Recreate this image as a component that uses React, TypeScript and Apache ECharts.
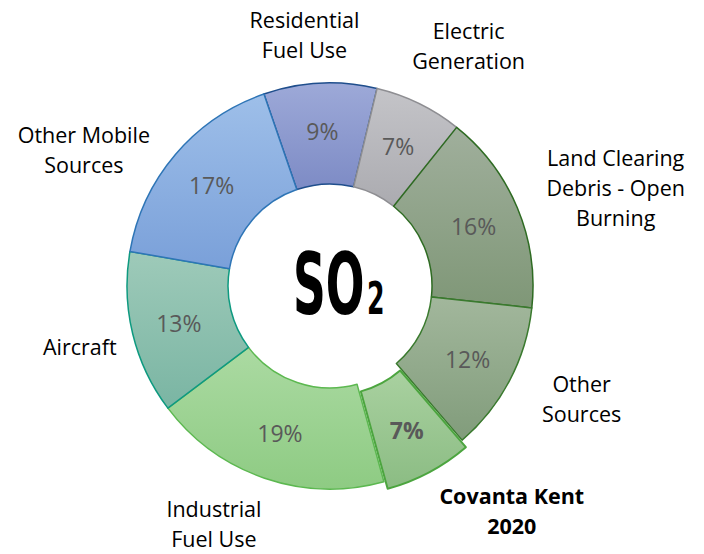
import React, { useEffect, useRef } from "react";
import * as echarts from "echarts";

const categories = [
  "Residential\nFuel Use",
  "Electric\nGeneration",
  "Land Clearing\nDebris - Open\nBurning",
  "Other\nSources",
  "Covanta Kent\n2020",
  "Industrial\nFuel Use",
  "Aircraft",
  "Other Mobile\nSources",
];
const shares = [9, 7, 16, 12, 7, 19, 13, 17];
const topColors = ["#9DA9D8", "#C4C4C8", "#A0AF9C", "#A2B79C", "#A9D1A0", "#ABDAA2", "#9ECAB9", "#9EBFE9"];
const bottomColors = ["#7D8BC5", "#ABABB0", "#7F9777", "#819C7B", "#8BBC83", "#8ECB83", "#7AB5A3", "#7AA0D9"];
const borderColors = ["#1F4E8C", "#8E8E92", "#2E6B22", "#3A7A2E", "#4CA53F", "#5CB850", "#0E9A80", "#2E75B6"];
const highlighted = "Covanta Kent\n2020";

// layout tweaks for the hand-placed outer labels (angle shift in degrees, gap in px)
const labelAngleShift = [-3, 4, 3.6, -3.8, -11, 7.2, 0, -11.4];
const labelGap = [14, 20, 19, 24, 9, 14, 15, 6];

const CX = 330;
const CY = 286;
const R0 = 102;
const R1 = 203;
const START_CW = -19; // degrees clockwise from 12 o'clock
const OFFSET = 8;

export default function App() {
  const ref = useRef<HTMLDivElement>(null);
  useEffect(() => {
    if (!ref.current) return;
    const chart = echarts.init(ref.current, null, { renderer: "svg" });
    const total = shares.reduce((a, b) => a + b, 0);
    const mids: number[] = [];
    let cum = 0;
    shares.forEach((v) => {
      mids.push(START_CW + (360 * (cum + v / 2)) / total);
      cum += v;
    });
    const grad = (i: number) => ({
      type: "linear",
      x: 0,
      y: 0,
      x2: 0,
      y2: 1,
      colorStops: [
        { offset: 0, color: topColors[i] },
        { offset: 1, color: bottomColors[i] },
      ],
    });
    const mainData = categories.map((name, i) => {
      const hi = name === highlighted;
      return {
        name,
        value: shares[i],
        selected: hi,
        itemStyle: { color: grad(i), borderColor: borderColors[i], borderWidth: hi ? 2 : 1.5 },
        label: { fontWeight: hi ? "bold" : "normal" },
      };
    });
    const nameData = categories.map((name, i) => ({
      name,
      value: shares[i],
      label: { fontWeight: name === highlighted ? "bold" : "normal" },
    }));
    chart.setOption({
      animation: false,
      backgroundColor: "#ffffff",
      series: [
        {
          type: "pie",
          center: [CX, CY],
          radius: [R0, R1],
          startAngle: 90 - START_CW,
          clockwise: true,
          selectedMode: "single",
          selectedOffset: OFFSET,
          avoidLabelOverlap: false,
          silent: true,
          label: {
            show: true,
            position: "inside",
            formatter: "{c}%",
            color: "#595959",
            fontSize: 23,
            fontFamily: "Open Sans",
          },
          labelLine: { show: false },
          data: mainData,
        },
        {
          type: "pie",
          center: [CX, CY],
          radius: [R0, R1],
          startAngle: 90 - START_CW,
          clockwise: true,
          silent: true,
          avoidLabelOverlap: false,
          itemStyle: { color: "rgba(0,0,0,0)", borderWidth: 0 },
          label: {
            show: true,
            position: "outside",
            formatter: "{b}",
            color: "#000000",
            fontSize: 21.5,
            lineHeight: 30,
            fontFamily: "Open Sans",
            align: "center",
          },
          labelLine: { show: false },
          labelLayout: (p: any) => {
            const i = p.dataIndex;
            const th = ((mids[i] + labelAngleShift[i]) * Math.PI) / 180;
            const ux = Math.sin(th);
            const uy = -Math.cos(th);
            const w = p.labelRect.width / 2;
            const h = p.labelRect.height / 2;
            const extra = categories[i] === highlighted ? OFFSET : 0;
            const d = R1 + labelGap[i] + extra + Math.abs(ux) * w + Math.abs(uy) * h;
            return {
              x: CX + ux * d,
              y: CY + uy * d,
              align: "center",
              verticalAlign: "middle",
            };
          },
          data: nameData,
        },
      ],
      graphic: [
        {
          type: "text",
          x: 293,
          y: 284,
          scaleX: 0.53,
          style: {
            text: "SO",
            font: 'bold 86px "DejaVu Sans"',
            fill: "#000000",
            align: "left",
            verticalAlign: "middle",
          },
        },
        {
          type: "text",
          x: 367,
          y: 299,
          scaleX: 0.56,
          style: {
            text: "2",
            font: 'bold 45px "DejaVu Sans"',
            fill: "#000000",
            align: "left",
            verticalAlign: "middle",
          },
        },
      ],
    });
    return () => chart.dispose();
  }, []);
  return (
    <div
      ref={ref}
      style={{ position: "fixed", left: 0, top: 0, width: 704, height: 554, background: "#fff" }}
    />
  );
}
